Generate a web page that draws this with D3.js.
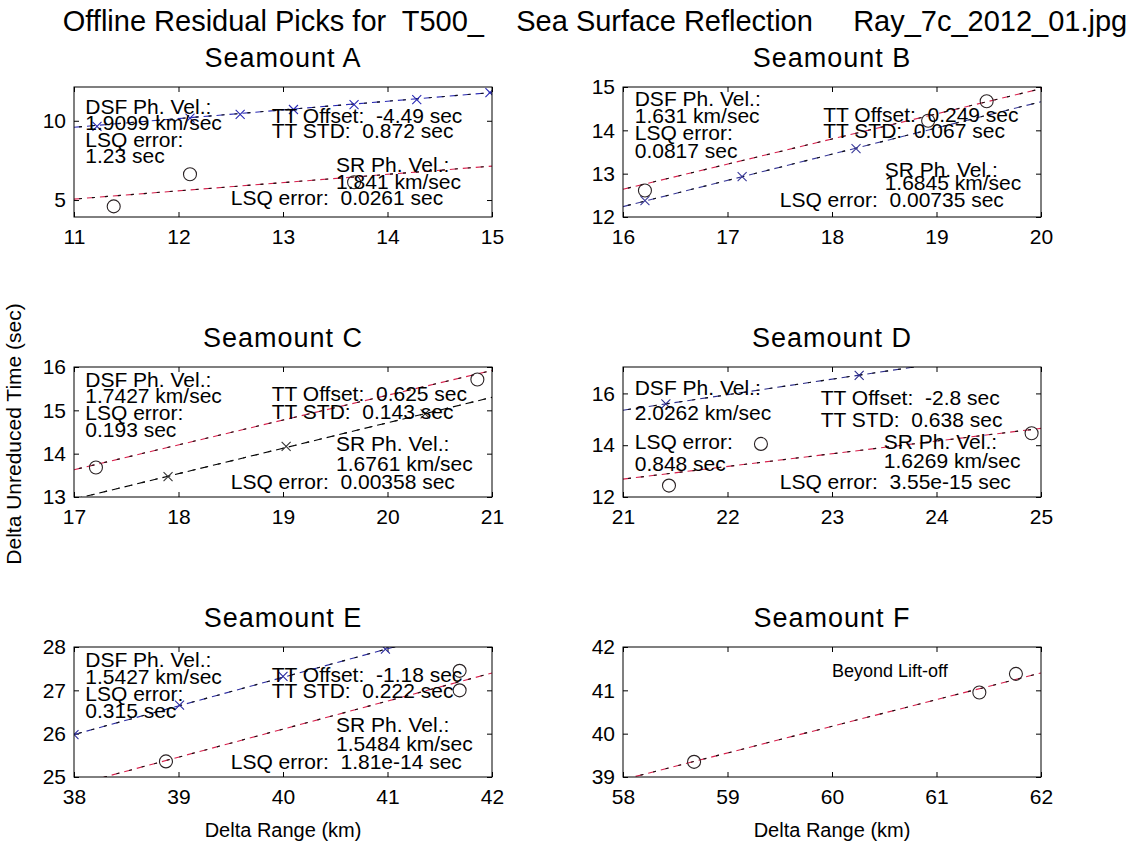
<!DOCTYPE html>
<html>
<head>
<meta charset="utf-8">
<script src="https://cdn.jsdelivr.net/npm/d3@7"></script>
<style>
  body { margin: 0; background: #fff; }
  text { font-family: "Liberation Sans", Arial, Helvetica, sans-serif; white-space: pre; fill: #000; }
</style>
</head>
<body>
<svg id="chart" width="1133" height="846"></svg>
<script>
// ---- data ----
const mainTitle = 'Offline Residual Picks for  T500_    Sea Surface Reflection     Ray_7c_2012_01.jpg';
const panelTitles = ['Seamount A', 'Seamount B', 'Seamount C', 'Seamount D', 'Seamount E', 'Seamount F'];
const xDomains = [[11, 15], [16, 20], [17, 21], [21, 25], [38, 42], [58, 62]];
const yDomains = [[3.93, 12.13], [12, 15], [13, 16], [12, 17.02], [25, 28], [39, 42]];
const xTicks = [[11, 12, 13, 14, 15], [16, 17, 18, 19, 20], [17, 18, 19, 20, 21],
                [21, 22, 23, 24, 25], [38, 39, 40, 41, 42], [58, 59, 60, 61, 62]];
const yTicks = [[5, 10], [12, 13, 14, 15], [13, 14, 15, 16], [12, 14, 16], [25, 26, 27, 28], [39, 40, 41, 42]];

// DSF picks (x markers) and SR picks (circles), [range km, time s]
const dsfPicks = [
  [[11.22, 9.65], [12.11, 10.16], [12.59, 10.41], [13.10, 10.71], [13.68, 11.02], [14.28, 11.33], [14.98, 11.78]],
  [[16.21, 12.38], [17.14, 12.93], [18.23, 13.58]],
  [[17.90, 13.47], [19.03, 14.17], [20.36, 14.92]],
  [[21.41, 15.6], [23.26, 16.7]],
  [[38.0, 25.98], [39.01, 26.66], [40.0, 27.32], [40.98, 27.95]],
  []
];
const srPicks = [
  [[11.38, 4.6], [12.11, 6.63], [13.68, 6.12]],
  [[16.21, 12.61], [18.92, 14.22], [19.48, 14.67]],
  [[17.21, 13.68], [20.86, 15.71]],
  [[21.44, 12.44], [22.32, 14.05], [24.91, 14.46]],
  [[38.88, 25.36], [41.69, 27.45], [41.69, 27.0]],
  [[58.68, 39.35], [61.41, 40.95], [61.76, 41.38]]
];
// fitted lines [x0, y0, x1, y1]
const dsfFit = [[11, 9.59, 15, 11.78], [16, 12.24, 20, 14.66], [17, 12.95, 21, 15.30],
                [21, 15.35, 25, 17.75], [38, 25.98, 42, 28.62], null];
const srFit = [[11, 5.06, 15, 7.14], [16, 12.64, 20, 14.96], [17, 13.63, 21, 15.92],
               [21, 12.69, 25, 14.65], [38, 24.81, 42, 27.40], [58, 38.94, 62, 41.40]];

const dsfLabels = [
  ['DSF Ph. Vel.:', '1.9099 km/sec', 'LSQ error:', '1.23 sec'],
  ['DSF Ph. Vel.:', '1.631 km/sec', 'LSQ error:', '0.0817 sec'],
  ['DSF Ph. Vel.:', '1.7427 km/sec', 'LSQ error:', '0.193 sec'],
  ['DSF Ph. Vel.:', '2.0262 km/sec', 'LSQ error:', '0.848 sec'],
  ['DSF Ph. Vel.:', '1.5427 km/sec', 'LSQ error:', '0.315 sec'],
  []
];
const ttLabels = [
  ['TT Offset:  -4.49 sec', 'TT STD:  0.872 sec'],
  ['TT Offset:  0.249 sec', 'TT STD:  0.067 sec'],
  ['TT Offset:  0.625 sec', 'TT STD:  0.143 sec'],
  ['TT Offset:  -2.8 sec', 'TT STD:  0.638 sec'],
  ['TT Offset:  -1.18 sec', 'TT STD:  0.222 sec'],
  []
];
const srLabels = [
  ['SR Ph. Vel.:', '1.841 km/sec'],
  ['SR Ph. Vel.:', '1.6845 km/sec'],
  ['SR Ph. Vel.:', '1.6761 km/sec'],
  ['SR Ph. Vel.:', '1.6269 km/sec'],
  ['SR Ph. Vel.:', '1.5484 km/sec'],
  []
];
const lsqLabels = ['LSQ error:  0.0261 sec', 'LSQ error:  0.00735 sec', 'LSQ error:  0.00358 sec',
                   'LSQ error:  3.55e-15 sec', 'LSQ error:  1.81e-14 sec', ''];
const noteLabels = ['', '', '', '', '', 'Beyond Lift-off'];

// ---- layout ----
const W = 418, H = 130;
const colLeft = [74, 623];
const rowTop = [87, 367, 647];
// text block placement as fractions of the axes box (x of left edge, y of baselines)
const textLayout = [
  { dsf: [0.027, [0.204, 0.332, 0.459, 0.582]], tt: [0.473, [0.276, 0.395]], sr: [0.627, [0.655, 0.785]], lsq: [0.375, 0.905] },
  { dsf: [0.028, [0.148, 0.276, 0.408, 0.548]], tt: [0.479, [0.268, 0.395]], sr: [0.626, [0.689, 0.79]], lsq: [0.375, 0.923] },
  { dsf: [0.027, [0.151, 0.277, 0.408, 0.539]], tt: [0.473, [0.264, 0.40]], sr: [0.627, [0.647, 0.80]], lsq: [0.375, 0.937] },
  { dsf: [0.028, [0.219, 0.408, 0.627, 0.80]], tt: [0.473, [0.295, 0.458]], sr: [0.624, [0.627, 0.78]], lsq: [0.375, 0.937] },
  { dsf: [0.027, [0.151, 0.282, 0.413, 0.547]], tt: [0.473, [0.27, 0.395]], sr: [0.627, [0.655, 0.80]], lsq: [0.375, 0.937] },
  { note: [0.5, 0.23] }
];
const dsfColors = ['#2a2ab4', '#3a3a9a', '#000000', '#2a2a8a', '#2a2aa0', '#000'];
const srColor = '#d8204c';

const svg = d3.select('#chart');

svg.append('text')
  .attr('x', 595).attr('y', 31)
  .attr('text-anchor', 'middle')
  .style('font-size', '29px')
  .text(mainTitle);

svg.append('text')
  .attr('transform', 'translate(21,434) rotate(-90)')
  .attr('text-anchor', 'middle')
  .style('font-size', '21px')
  .text('Delta Unreduced Time (sec)');

const dashedLine = (g, x, y, seg, color) => {
  // MATLAB style dashed fit, coloured dash with a black part on top
  const attrs = sel => sel
    .attr('x1', x(seg[0])).attr('y1', y(seg[1]))
    .attr('x2', x(seg[2])).attr('y2', y(seg[3]))
    .attr('fill', 'none').attr('stroke-width', 1.1);
  g.append('line').call(attrs).attr('stroke', color).attr('stroke-dasharray', '8,5');
  g.append('line').call(attrs).attr('stroke', '#111').attr('stroke-dasharray', '3,10').attr('stroke-dashoffset', -5);
};

const textBlock = (g, lines, fx, fys) => {
  lines.forEach((t, k) => {
    g.append('text')
      .attr('x', fx * W).attr('y', fys[k] * H)
      .style('font-size', '21px')
      .text(t);
  });
};

panelTitles.forEach((title, i) => {
  const left = colLeft[i % 2];
  const top = rowTop[Math.floor(i / 2)];
  const x = d3.scaleLinear().domain(xDomains[i]).range([0, W]);
  const y = d3.scaleLinear().domain(yDomains[i]).range([H, 0]);
  const g = svg.append('g').attr('transform', `translate(${left},${top})`);

  g.append('text')
    .attr('x', W / 2).attr('y', -20)
    .attr('text-anchor', 'middle')
    .style('font-size', '27px')
    .style('letter-spacing', '1px')
    .text(title);

  g.append('clipPath').attr('id', `clip${i}`)
    .append('rect').attr('width', W).attr('height', H);

  // axes, ticks pointing inward on all four sides
  const fmt = d3.format('d');
  const bottom = g.append('g').attr('transform', `translate(0,${H})`)
    .call(d3.axisBottom(x).tickValues(xTicks[i]).tickFormat(fmt).tickSizeInner(-5).tickSizeOuter(0).tickPadding(12));
  const leftAx = g.append('g')
    .call(d3.axisLeft(y).tickValues(yTicks[i]).tickFormat(fmt).tickSizeInner(-5).tickSizeOuter(0).tickPadding(8));
  g.append('g')
    .call(d3.axisTop(x).tickValues(xTicks[i]).tickSizeInner(-5).tickSizeOuter(0).tickFormat(''));
  g.append('g').attr('transform', `translate(${W},0)`)
    .call(d3.axisRight(y).tickValues(yTicks[i]).tickSizeInner(-5).tickSizeOuter(0).tickFormat(''));
  g.selectAll('.domain').remove();
  g.selectAll('.tick line').attr('stroke', '#000');
  bottom.selectAll('text').style('font-size', '21px').attr('fill', '#000')
    .style('font-family', '"Liberation Sans", Arial, sans-serif');
  leftAx.selectAll('text').style('font-size', '21px').attr('fill', '#000')
    .style('font-family', '"Liberation Sans", Arial, sans-serif');

  const plot = g.append('g').attr('clip-path', `url(#clip${i})`);
  if (dsfFit[i]) dashedLine(plot, x, y, dsfFit[i], dsfColors[i]);
  if (srFit[i]) dashedLine(plot, x, y, srFit[i], srColor);

  plot.selectAll('path.xmark').data(dsfPicks[i]).enter()
    .append('path')
    .attr('class', 'xmark')
    .attr('transform', d => `translate(${x(d[0])},${y(d[1])})`)
    .attr('d', 'M-4.5,-4.5L4.5,4.5M-4.5,4.5L4.5,-4.5')
    .attr('stroke', dsfColors[i] === '#000000' ? '#333' : dsfColors[i])
    .attr('stroke-width', 1.1);

  plot.selectAll('circle').data(srPicks[i]).enter()
    .append('circle')
    .attr('cx', d => x(d[0]))
    .attr('cy', d => y(d[1]))
    .attr('r', 6.5)
    .attr('fill', 'none')
    .attr('stroke', '#2a2224')
    .attr('stroke-width', 1.1);

  const lay = textLayout[i];
  if (lay.dsf) textBlock(g, dsfLabels[i], lay.dsf[0], lay.dsf[1]);
  if (lay.tt) textBlock(g, ttLabels[i], lay.tt[0], lay.tt[1]);
  if (lay.sr) textBlock(g, srLabels[i], lay.sr[0], lay.sr[1]);
  if (lay.lsq) textBlock(g, [lsqLabels[i]], lay.lsq[0], [lay.lsq[1]]);
  if (lay.note) {
    g.append('text')
      .attr('x', lay.note[0] * W).attr('y', lay.note[1] * H)
      .style('font-size', '18px')
      .text(noteLabels[i]);
  }

  g.append('rect')
    .attr('width', W).attr('height', H)
    .attr('fill', 'none').attr('stroke', '#000').attr('stroke-width', 1);

  if (i >= 4) {
    g.append('text')
      .attr('x', W / 2).attr('y', H + 60)
      .attr('text-anchor', 'middle')
      .style('font-size', '20px')
      .text('Delta Range (km)');
  }
});
</script>
</body>
</html>
